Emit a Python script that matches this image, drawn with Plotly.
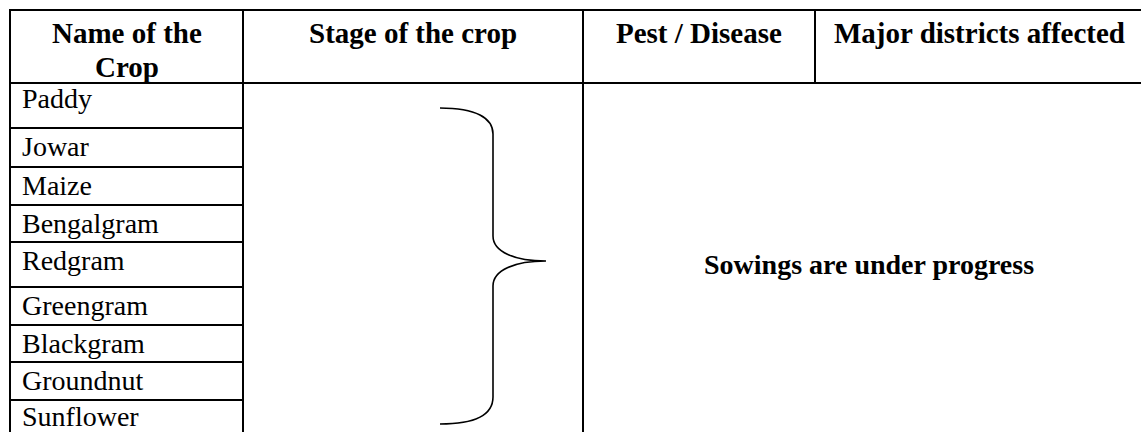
import plotly.graph_objects as go

# ---- table content ----
header_labels = ["Name of the<br>Crop", "Stage of the crop", "Pest / Disease", "Major districts affected"]
crops = ["Paddy", "Jowar", "Maize", "Bengalgram", "Redgram",
         "Greengram", "Blackgram", "Groundnut", "Sunflower"]
merged_note = "Sowings are under progress"

# ---- layout geometry (pixels) ----
W, H = 1141, 432
col_edges = [10, 243, 583, 815, 1160]
table_top = 10
row_edges = [83, 128, 167, 205, 242, 287, 325, 362, 400, 438]
text_offsets = [15, 18, 18, 18, 18, 18, 18, 18, 16]
bottom = 440

FONT = "Liberation Serif, Times New Roman, serif"
LINE = dict(color="black", width=2)

fig = go.Figure()
shapes = []

def hline(x0, x1, y, line=LINE):
    shapes.append(dict(type="line", xref="x", yref="y", x0=x0, x1=x1, y0=y, y1=y, line=line))

def vline(x, y0, y1, line=LINE):
    shapes.append(dict(type="line", xref="x", yref="y", x0=x, x1=x, y0=y0, y1=y1, line=line))

# outer top and header bottom
hline(col_edges[0] - 1, W + 5, table_top)
hline(col_edges[0] - 1, W + 5, row_edges[0])
# row lines in first column
for y in row_edges[1:]:
    hline(col_edges[0], col_edges[1], y)
# vertical lines
vline(col_edges[0], table_top, bottom)
vline(col_edges[1], table_top, bottom)
vline(col_edges[2], table_top, bottom)
vline(col_edges[3], table_top, row_edges[0])

# curly brace
brace = ("M 440,108 C 476,108 493,118 493,134 "
         "L 493,236 C 493,252 515,261 546,261 "
         "C 515,261 493,270 493,286 "
         "L 493,397 C 493,414 476,424 440,424")
shapes.append(dict(type="path", xref="x", yref="y", path=brace,
                   line=dict(color="black", width=1.6)))

annotations = []
# headers (each line placed separately)
header_x = [126.5, 413, 699, 979]
first_line_y = 33
line_gap = 34
for lab, x in zip(header_labels, header_x):
    for k, part in enumerate(lab.split("<br>")):
        annotations.append(dict(x=x, y=first_line_y + k * line_gap, xref="x", yref="y",
                                text=f"<b>{part}</b>", showarrow=False,
                                xanchor="center", yanchor="middle",
                                font=dict(family=FONT, size=29, color="black")))
# crop names
for i, c in enumerate(crops):
    y = row_edges[i] + text_offsets[i]
    annotations.append(dict(x=20, y=y, xref="x", yref="y", text=c,
                            showarrow=False, xanchor="left", yanchor="middle",
                            font=dict(family=FONT, size=28, color="black")))
# merged note
annotations.append(dict(x=869, y=264, xref="x", yref="y", text=f"<b>{merged_note}</b>",
                        showarrow=False, xanchor="center", yanchor="middle",
                        font=dict(family=FONT, size=28, color="black")))

fig.update_layout(
    width=W, height=H,
    margin=dict(l=0, r=0, t=0, b=0),
    paper_bgcolor="white", plot_bgcolor="white",
    xaxis=dict(range=[0, W], visible=False, fixedrange=True),
    yaxis=dict(range=[H, 0], visible=False, fixedrange=True),
    shapes=shapes, annotations=annotations,
    showlegend=False,
)

fig.write_html("out.html", config=dict(displayModeBar=False),
               post_script="document.body.style.margin='0';")
